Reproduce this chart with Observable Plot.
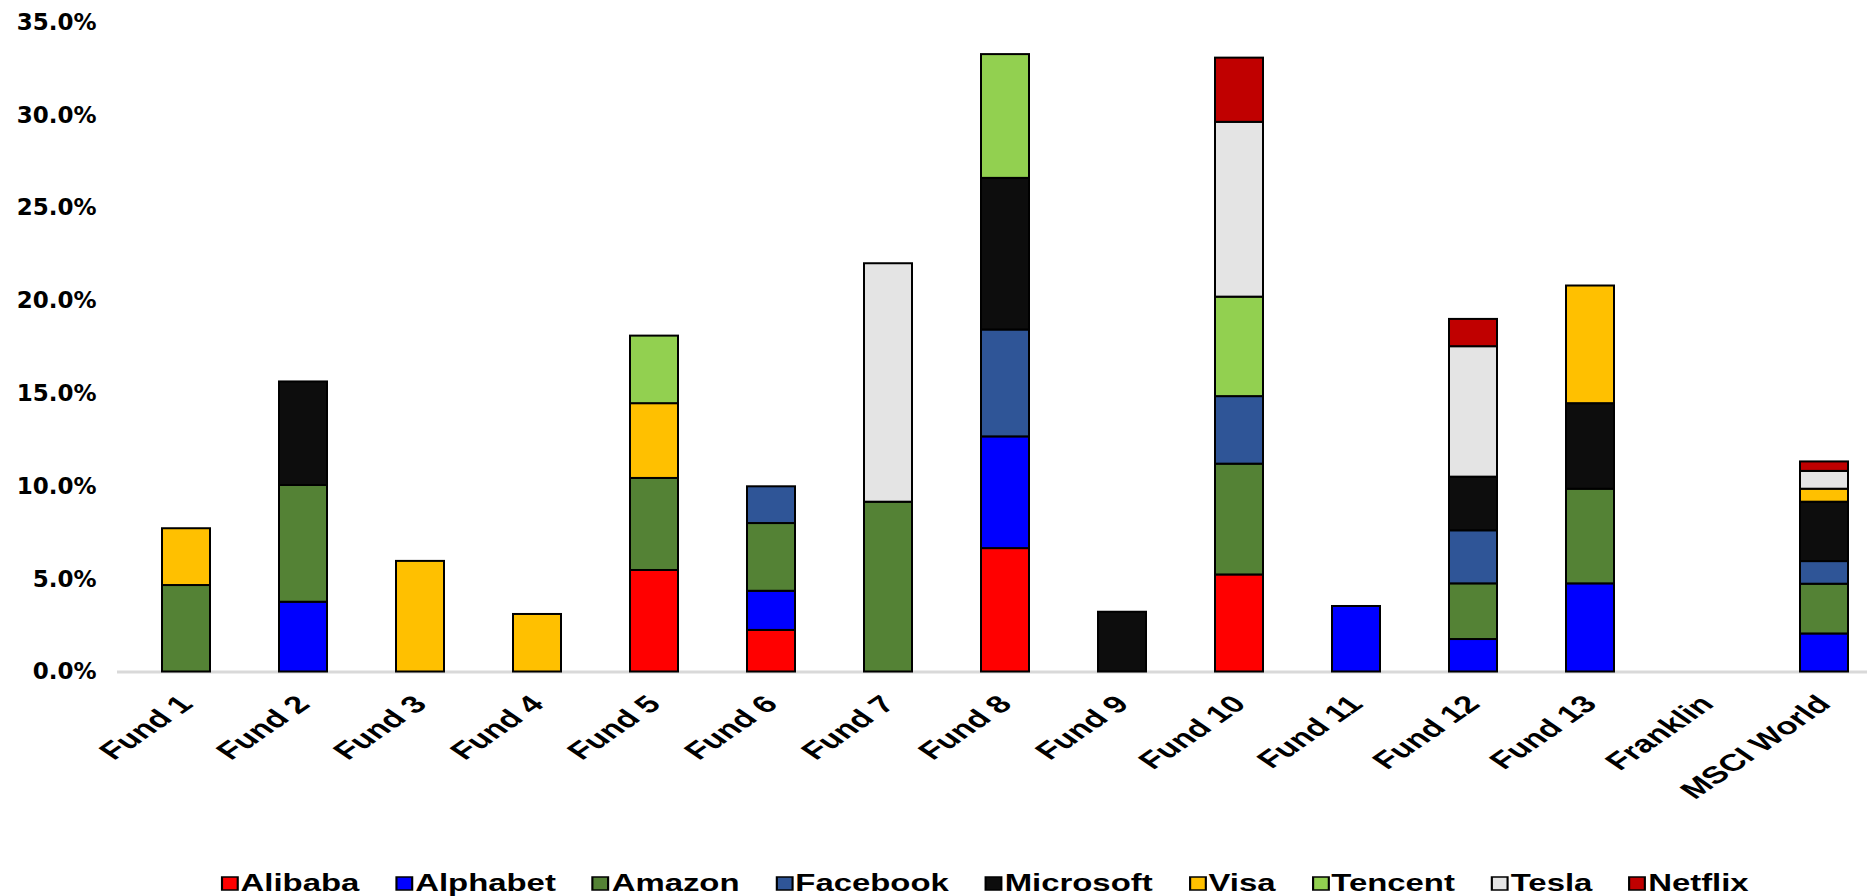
<!DOCTYPE html>
<html>
<head>
<meta charset="utf-8">
<script src="https://cdn.jsdelivr.net/npm/d3@7"></script>
<script src="https://cdn.jsdelivr.net/npm/@observablehq/plot@0.6"></script>
<style>
  html, body { margin: 0; padding: 0; background: #fff; overflow: hidden; }
  #chart { position: relative; width: 1867px; height: 896px; }
  #legend { position: absolute; left: 222px; top: 867px; transform: scaleX(1.43); transform-origin: 0 50%; white-space: nowrap; }
  #legend .lg-swatch { margin-right: 26px !important; font: bold 23px "Liberation Sans", Arial, sans-serif; color: #000; }
  #legend .lg-swatch > svg { margin-right: 2px !important; overflow: visible; }
  #legend .lg-swatch > svg rect { stroke: #000; stroke-width: 1.5px; }
</style>
</head>
<body>
<div id="chart"><div id="legend"></div></div>
<script>
const funds = ["Fund 1","Fund 2","Fund 3","Fund 4","Fund 5","Fund 6","Fund 7","Fund 8","Fund 9","Fund 10","Fund 11","Fund 12","Fund 13","Franklin","MSCI World"];
const series = ["Alibaba","Alphabet","Amazon","Facebook","Microsoft","Visa","Tencent","Tesla","Netflix"];
const colors = ["#FF0000","#0000FF","#548235","#2F5597","#0D0D0D","#FFC000","#92D050","#E4E4E4","#C00000"];
const yTicks = [0, 5, 10, 15, 20, 25, 30, 35];

// values in percent, one entry per fund (order as in `funds`)
const alibaba   = [0,    0,    0,    0,    5.47, 2.24, 0,     6.65, 0,    5.23, 0,    0,    0,    0, 0];
const alphabet  = [0,    3.76, 0,    0,    0,    2.11, 0,     6.02, 0,    0,    3.53, 1.75, 4.75, 0, 2.05];
const amazon    = [4.66, 6.29, 0,    0,    4.96, 3.65, 9.15,  0,    0,    5.97, 0,    3.00, 5.10, 0, 2.68];
const facebook  = [0,    0,    0,    0,    0,    1.98, 0,     5.76, 0,    3.64, 0,    2.86, 0,    0, 1.22];
const microsoft = [0,    5.58, 0,    0,    0,    0,    0,     8.17, 3.22, 0,    0,    2.89, 4.61, 0, 3.20];
const visa      = [3.06, 0,    5.96, 3.10, 4.03, 0,    0,     0,    0,    0,    0,    0,    6.34, 0, 0.70];
const tencent   = [0,    0,    0,    0,    3.64, 0,    0,     6.67, 0,    5.36, 0,    0,    0,    0, 0];
const tesla     = [0,    0,    0,    0,    0,    0,    12.85, 0,    0,    9.42, 0,    7.03, 0,    0, 0.96];
const netflix   = [0,    0,    0,    0,    0,    0,    0,     0,    0,    3.46, 0,    1.47, 0,    0, 0.51];

const seriesValues = [alibaba, alphabet, amazon, facebook, microsoft, visa, tencent, tesla, netflix];
const rows = [];
series.forEach((company, s) => {
  seriesValues[s].forEach((v, i) => {
    if (v > 0) rows.push({fund: funds[i], company, value: v});
  });
});

const chart = Plot.plot({
  width: 1867,
  height: 850,
  marginTop: 22,
  marginBottom: 178.5,
  marginLeft: 117,
  marginRight: 0,
  x: {domain: funds, range: [117, 1893], paddingInner: 0.587, paddingOuter: 0.35, axis: null},
  y: {domain: [0, 35], axis: null},
  color: {domain: series, range: colors},
  marks: [
    Plot.ruleY([0], {stroke: "#d9d9d9", strokeWidth: 3}),
    Plot.barY(rows, Plot.stackY({x: "fund", y: "value", fill: "company", order: series, stroke: "#000", strokeWidth: 2})),
    Plot.axisY(yTicks, {tickSize: 0, tickPadding: 21, tickFormat: d => d.toFixed(1) + "%", label: null,
      fontSize: 23, fontWeight: "bold", fontFamily: "DejaVu Sans", fill: "#000"}),
    Plot.axisX({tickSize: 0, tickPadding: 28, tickRotate: -45, label: null,
      fontSize: 24, fontWeight: "bold", fontFamily: "Liberation Sans", fill: "#000"})
  ]
});

const svg = d3.select(chart);
svg.style("position", "absolute").style("left", "0px").style("top", "0px");
svg.selectAll('g[aria-label="y-axis tick label"] text')
  .attr("font-family", "DejaVu Sans").attr("font-weight", "bold").attr("font-size", 23);
svg.selectAll('g[aria-label="x-axis tick label"] text')
  .attr("font-family", "Liberation Sans").attr("font-weight", "bold").attr("font-size", 24)
  .attr("transform", function() {
    const t = this.getAttribute("transform") || "";
    return t.replace("rotate(", "scale(1.45,1) rotate(");
  });
svg.selectAll('g[aria-label="x-axis tick label"]').attr("transform", function() {
  const t = this.getAttribute("transform") || "";
  return t.replace("rotate(", "scale(1.45,1) rotate(");
});

document.getElementById("chart").insertBefore(chart, document.getElementById("legend"));

const legend = Plot.legend({
  color: {domain: series, range: colors},
  legend: "swatches",
  swatchWidth: 11,
  swatchHeight: 13,
  className: "lg",
  style: {fontFamily: "Liberation Sans", fontSize: "23px", fontWeight: "bold", color: "#000"}
});
document.getElementById("legend").appendChild(legend);
</script>
</body>
</html>
